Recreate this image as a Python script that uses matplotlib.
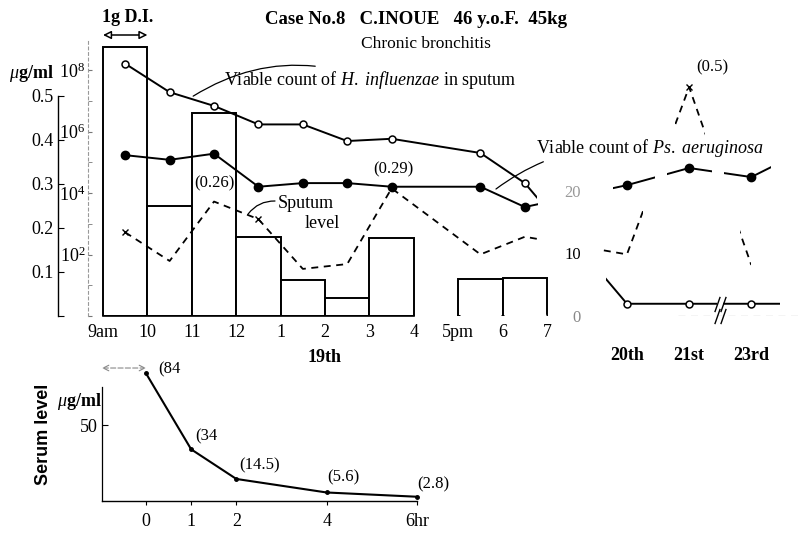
import numpy as np
import matplotlib.pyplot as plt
from matplotlib.patches import Rectangle
from matplotlib import transforms
from matplotlib.ticker import FixedLocator, NullFormatter

plt.rcParams['font.family'] = ['Liberation Serif', 'DejaVu Serif']
plt.rcParams['mathtext.fontset'] = 'custom'
plt.rcParams['mathtext.rm'] = 'Liberation Serif'
plt.rcParams['mathtext.it'] = 'Liberation Serif:italic'
plt.rcParams['mathtext.bf'] = 'Liberation Serif:bold'
plt.rcParams['lines.scale_dashes'] = False

# ---- 19th, hourly ----
bar_start = [9, 10, 11, 12, 13, 14, 15, 17, 18]
sputum_vol = [43, 17.6, 32.5, 12.6, 5.8, 2.9, 12.5, 5.9, 6.1]
hour_ticks = [9, 10, 11, 12, 13, 14, 15, 16, 17, 18, 19]
hour_labels = ['9am', '10', '11', '12', '1', '2', '3', '4', '5pm', '6', '7']

sample_hr = [9.5, 10.5, 11.5, 12.5, 13.5, 14.5, 15.5, 17.5, 18.5]
h_infl = [1.6e8, 1.9e7, 6.8e6, 1.7e6, 1.7e6, 4.9e5, 5.8e5, 2.0e5, 2.1e4]
ps_aer = [1.7e5, 1.2e5, 1.9e5, 1.6e4, 2.1e4, 2.1e4, 1.6e4, 1.6e4, 3.5e3]
sputum_lvl = [0.19, 0.125, 0.26, 0.22, 0.107, 0.118, 0.29, 0.14, 0.18]

# ---- following days ----
days = ['20th', '21st', '23rd']
h_infl_days = [2.5, 2.5, 2.5]
ps_aer_days = [1.8e4, 6.5e4, 3.3e4]
sputum_lvl_days = [0.14, 0.52, 0.116]
h_infl_next = 2.5      # next reading, off the right edge
ps_aer_next = 3.4e5

vol_ticks = [0, 10, 20]

# ---- serum ----
serum_hr = [0, 1, 2, 4, 6]
serum_lvl = [84, 34, 14.5, 5.6, 2.8]
serum_txt = ['(84', '(34', '(14.5)', '(5.6)', '(2.8)']
serum_tick_labels = ['0', '1', '2', '4', '6hr']

W, H = 801, 548


def fp(x, y):
    return x / W, 1 - y / H


fig = plt.figure(figsize=(W / 100, H / 100), dpi=100)

# upper panel: hours of the 19th, then the later days on the same x scale
day_x = [20.8, 22.2, 23.6]
next_x = 25.0
axv = fig.add_axes([58 / W, 1 - 316 / H, 743 / W, 276 / H])
axu = axv.twinx()
axl = axv.twinx()
axv.set_xlim(7.986, 24.72)
axv.set_ylim(0, 44.16)
axu.set_ylim(0, 0.627)
axl.set_yscale('log')
axl.set_ylim(1, 10 ** 8.976)

for a in (axv, axu, axl):
    for s in a.spines.values():
        s.set_visible(False)
    a.patch.set_visible(False)

# bars
axv.bar(bar_start, sputum_vol, width=1, align='edge', facecolor='white',
        edgecolor='black', lw=1.4, zorder=1)
# no base line under the evening bars
late = [b for b in bar_start if b >= 16]
axv.hlines([0] * len(late), [b + 0.03 for b in late], [b + 0.97 for b in late],
           colors='white', lw=2.5, zorder=2)
axv.spines['bottom'].set_visible(True)
axv.spines['bottom'].set_bounds(9, 16)
axv.spines['bottom'].set_linewidth(1.2)
axv.set_xticks(hour_ticks, hour_labels)
axv.tick_params(axis='x', length=0, pad=6, labelsize=13)

# volume scale for the later days
axv.spines['left'].set_position(('data', 19.86))
axv.set_yticks(vol_ticks, [str(v) for v in vol_ticks])
axv.tick_params(axis='y', length=0, pad=3, labelsize=12)
for lbl, c in zip(axv.get_yticklabels(), ['#888888', 'black', '#999999']):
    lbl.set_color(c)
axv.hlines(0, 21.95, 24.72, colors='#aaaaaa', lw=0.9, linestyles=(0, (5, 4)))

# ug/ml scale
axu.yaxis.tick_left()
axu.spines['left'].set_visible(True)
axu.spines['left'].set_bounds(0, 0.5)
axu.spines['left'].set_linewidth(1.0)
axu.set_yticks([0, 0.1, 0.2, 0.3, 0.4, 0.5], ['', '0.1', '0.2', '0.3', '0.4', '0.5'])
axu.tick_params(axis='y', direction='in', length=4, pad=3, labelsize=13)

# log count scale
axl.yaxis.tick_left()
axl.spines['left'].set_visible(True)
axl.spines['left'].set_position(('axes', 30 / 743))
axl.spines['left'].set_color('#999999')
axl.spines['left'].set_linewidth(0.8)
axl.spines['left'].set_linestyle((0, (2, 2)))
axl.yaxis.set_major_locator(FixedLocator([1, 1e2, 1e4, 1e6, 1e8]))
axl.yaxis.set_minor_locator(FixedLocator([1e1, 1e3, 1e5, 1e7]))
axl.yaxis.set_minor_formatter(NullFormatter())
axl.set_yticklabels(['', '10$^2$', '10$^4$', '10$^6$', '10$^8$'])
axl.tick_params(axis='y', which='both', direction='in', length=3, pad=2,
                labelsize=13, color='#777777')


def pieces(a, x, y, spans, **kw):
    tr = transforms.blended_transform_factory(a.transData, a.transAxes)
    for x0, x1 in spans:
        ln, = a.plot(x, y, **kw)
        ln.set_clip_path(Rectangle((x0, -0.5), x1 - x0, 2, transform=tr))


xa = sample_hr + day_x + [next_x]
xs = sample_hr + day_x

brk = (day_x[1] + day_x[2]) / 2
pieces(axl, xa, h_infl + h_infl_days + [h_infl_next],
       [(8, 18.77), (20.33, brk - 0.07), (brk + 0.07, 24.25)],
       color='black', lw=1.4, zorder=3)
axl.plot(xs, h_infl + h_infl_days, ls='none', marker='o', ms=5,
         mfc='white', mec='black', mew=1.1, zorder=4)

pieces(axl, xa, ps_aer + ps_aer_days + [ps_aer_next],
       [(8, 18.8), (20.49, 21.43), (21.70, 22.72), (22.99, 24.05)],
       color='black', lw=1.4, zorder=3)
axl.plot(xs, ps_aer + ps_aer_days, ls='none', marker='o', ms=6,
         mfc='black', mec='black', zorder=4)

# break marks on day 22
for dx in (-0.07, 0.07):
    axl.plot([brk + dx] * 2, [h_infl_days[1], 1.0], ls='none',
             marker=[(-0.35, -1), (0.35, 1)], ms=11, mew=1.0, color='black',
             clip_on=False, zorder=5)

pieces(axu, xs, sputum_lvl + sputum_lvl_days,
       [(8, 18.86), (20.26, 21.16), (21.88, 22.56), (23.35, 23.6)],
       color='black', lw=1.3, dashes=(5, 4), zorder=3)
x_marks = [0, 3, len(sample_hr) + 1]
axu.plot([xs[i] for i in x_marks], [(sputum_lvl + sputum_lvl_days)[i] for i in x_marks],
         ls='none', marker='x', ms=5, mew=1.0, color='black', zorder=4)

# value labels
axu.text(11.5, 0.302, '(0.26)', ha='center', va='center', fontsize=12)
axu.text(15.54, 0.332, '(0.29)', ha='center', va='center', fontsize=12)
axu.text(22.72, 0.564, '(0.5)', ha='center', va='center', fontsize=12)

# series labels
axl.annotate(r'Viable count of $\mathit{H.\ influenzae}$ in sputum',
             xy=(11.03, 10 ** 7.15), xytext=fp(224, 80), textcoords='figure fraction',
             ha='left', va='center', fontsize=13,
             arrowprops=dict(arrowstyle='-', lw=0.9, shrinkA=0, shrinkB=0,
                             connectionstyle='arc3,rad=0.25'))
axl.annotate(r'Viable count of $\mathit{Ps.\ aeruginosa}$',
             xy=(17.85, 10 ** 4.13), xytext=fp(536, 148), textcoords='figure fraction',
             ha='left', va='center', fontsize=13,
             arrowprops=dict(arrowstyle='-', lw=0.9, shrinkA=0, shrinkB=0,
                             connectionstyle='arc3,rad=0.2'))
fig.text(*fp(306, 203), 'Sputum', ha='center', va='center', fontsize=13)
fig.text(*fp(322, 223), 'level', ha='center', va='center', fontsize=13)
axu.annotate('', xy=(12.27, 0.232), xytext=fp(275, 201), textcoords='figure fraction',
             arrowprops=dict(arrowstyle='-', lw=0.9, shrinkA=0, shrinkB=0,
                             connectionstyle='arc3,rad=0.25'))

# dosing arrow
tr_top = transforms.blended_transform_factory(axv.transData, fig.transFigure)
axv.annotate('', xy=(10, fp(0, 35)[1]), xytext=(9, fp(0, 35)[1]),
             xycoords=tr_top, textcoords=tr_top, annotation_clip=False,
             arrowprops=dict(arrowstyle='<|-|>', fc='white', lw=1.1,
                             mutation_scale=12, shrinkA=0, shrinkB=0))
fig.text(*fp(128, 17), '1g D.I.', ha='center', va='center', fontsize=13,
         weight='bold')

# titles and axis labels
fig.text(*fp(416, 20), 'Case No.8   C.INOUE   46 y.o.F.  45kg', ha='center',
         va='center', fontsize=13.5, weight='bold')
fig.text(*fp(426, 44), 'Chronic bronchitis', ha='center', va='center', fontsize=12.5)
fig.text(*fp(31, 73), r'$\mu$g/ml', ha='center', va='center', fontsize=13,
         weight='bold')
fig.text(*fp(325, 358), '19th', ha='center', va='center', fontsize=13, weight='bold')
tr_days = transforms.blended_transform_factory(axv.transData, fig.transFigure)
for dx, d in zip(day_x, days):
    axv.text(dx, fp(0, 356)[1], d, transform=tr_days, ha='center', va='center',
             fontsize=13, weight='bold')

# ---- serum level panel ----
axs = fig.add_axes([102 / W, 1 - 501 / H, 318 / W, 138 / H])
axs.set_xlim(-0.974, 6.066)
axs.set_ylim(0, 90.8)
axs.plot(serum_hr, serum_lvl, color='black', lw=1.5, marker='o', ms=2.5)
serum_off = [(17, 3), (11, 9), (17, 10), (12, 11), (12, 9)]
for h, v, t, off in zip(serum_hr, serum_lvl, serum_txt, serum_off):
    axs.annotate(t, (h, v), xytext=off, textcoords='offset points',
                 ha='center', va='center', fontsize=12)
axs.spines['top'].set_visible(False)
axs.spines['right'].set_visible(False)
axs.spines['left'].set_bounds(0, 75)
axs.spines['bottom'].set_bounds(-0.974, 6)
axs.spines['left'].set_linewidth(0.9)
axs.spines['bottom'].set_linewidth(1.0)
axs.set_xticks(serum_hr, serum_tick_labels)
axs.set_yticks([50], ['50'])
axs.tick_params(axis='x', direction='out', length=3, pad=6, labelsize=13)
axs.tick_params(axis='y', direction='in', length=4, pad=3, labelsize=13)
axs.annotate('', xy=(0, 87.5), xytext=(-0.974, 87.5), annotation_clip=False,
             arrowprops=dict(arrowstyle='<->', lw=0.8, ls='--', color='#888888',
                             shrinkA=0, shrinkB=0))
fig.text(*fp(79, 402), r'$\mu$g/ml', ha='center', va='center', fontsize=13,
         weight='bold')
fig.text(*fp(43, 434), 'Serum level', ha='center', va='center', rotation=90,
         fontsize=13, weight='bold', family=['Liberation Sans', 'DejaVu Sans'])

fig.savefig('out.png', dpi=100, facecolor='white')
